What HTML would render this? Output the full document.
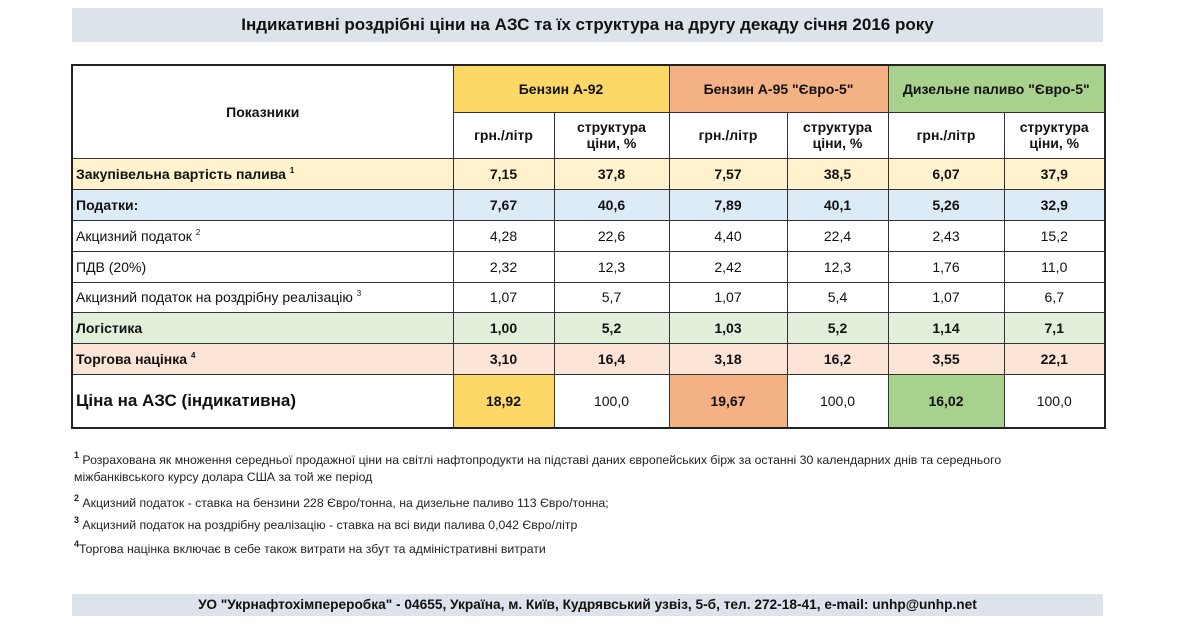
<!DOCTYPE html>
<html><head><meta charset="utf-8"><style>
body{margin:0;width:1200px;height:630px;background:#fff;font-family:"Liberation Sans",sans-serif;position:relative;overflow:hidden;color:#111}
.bar{position:absolute;left:72px;width:1031px;background:#dde3ea;text-align:center;font-weight:bold;white-space:nowrap}
table{position:absolute;left:71px;top:64px;width:1033px;border-collapse:collapse;border:2.5px solid #222;table-layout:fixed}
td{border:1.5px solid #333;text-align:center;font-size:14px;padding:0;font-weight:bold}
td.l{text-align:left;padding-left:3px;white-space:nowrap}
td.n{font-weight:normal}
sup{font-size:8px;vertical-align:6px;line-height:0}
.fn{position:absolute;left:74px;font-size:12.3px;color:#222;line-height:17px;white-space:nowrap}
.fn sup{font-size:9px;font-weight:bold}
</style></head><body>
<div class="bar" style="top:8px;height:34px;line-height:34px;font-size:17px">Індикативні роздрібні ціни на АЗС  та їх структура на другу декаду січня 2016 року</div>
<table>
<colgroup><col style="width:381px"><col style="width:101px"><col style="width:115px"><col style="width:118px"><col style="width:101px"><col style="width:116px"><col style="width:101px"></colgroup>
<tr style="height:47px"><td rowspan="2">Показники</td><td colspan="2" style="background:#fdd866">Бензин А-92</td><td colspan="2" style="background:#f4b183">Бензин А-95 "Євро-5"</td><td colspan="2" style="background:#a9d18e">Дизельне паливо "Євро-5"</td></tr>
<tr style="height:46px"><td>грн./літр</td><td>структура<br>ціни, %</td><td>грн./літр</td><td>структура<br>ціни, %</td><td>грн./літр</td><td>структура<br>ціни, %</td></tr>
<tr style="height:31px;background:#fff2cc"><td class="l">Закупівельна вартість палива <sup>1</sup></td><td>7,15</td><td>37,8</td><td>7,57</td><td>38,5</td><td>6,07</td><td>37,9</td></tr>
<tr style="height:31px;background:#ddebf7"><td class="l">Податки:</td><td>7,67</td><td>40,6</td><td>7,89</td><td>40,1</td><td>5,26</td><td>32,9</td></tr>
<tr style="height:31px"><td class="l n">Акцизний податок <sup>2</sup></td><td class="n">4,28</td><td class="n">22,6</td><td class="n">4,40</td><td class="n">22,4</td><td class="n">2,43</td><td class="n">15,2</td></tr>
<tr style="height:31px"><td class="l n">ПДВ (20%)</td><td class="n">2,32</td><td class="n">12,3</td><td class="n">2,42</td><td class="n">12,3</td><td class="n">1,76</td><td class="n">11,0</td></tr>
<tr style="height:30px"><td class="l n">Акцизний податок на роздрібну реалізацію <sup>3</sup></td><td class="n">1,07</td><td class="n">5,7</td><td class="n">1,07</td><td class="n">5,4</td><td class="n">1,07</td><td class="n">6,7</td></tr>
<tr style="height:31px;background:#e2efda"><td class="l">Логістика</td><td>1,00</td><td>5,2</td><td>1,03</td><td>5,2</td><td>1,14</td><td>7,1</td></tr>
<tr style="height:31px;background:#fce4d6"><td class="l">Торгова націнка <sup>4</sup></td><td>3,10</td><td>16,4</td><td>3,18</td><td>16,2</td><td>3,55</td><td>22,1</td></tr>
<tr style="height:54px"><td class="l" style="font-size:17px">Ціна на АЗС (індикативна)</td><td style="background:#fdd866">18,92</td><td class="n">100,0</td><td style="background:#f4b183">19,67</td><td class="n">100,0</td><td style="background:#a9d18e">16,02</td><td class="n">100,0</td></tr>
</table>
<div class="fn" style="top:452px"><sup>1</sup> Розрахована як множення середньої продажної ціни на світлі нафтопродукти на підставі даних європейських бірж за останні 30 календарних днів та середнього<br>міжбанківського курсу долара США за той же період</div>
<div class="fn" style="top:495px"><sup>2</sup> Акцизний податок - ставка на бензини 228 Євро/тонна, на дизельне паливо 113 Євро/тонна;</div>
<div class="fn" style="top:517px"><sup>3</sup> Акцизний податок на роздрібну реалізацію - ставка на всі види палива 0,042 Євро/літр</div>
<div class="fn" style="top:541px"><sup>4</sup>Торгова націнка включає в себе також витрати на збут та адміністративні витрати</div>
<div class="bar" style="top:594px;height:22px;line-height:22px;font-size:13.7px">УО "Укрнафтохімпереробка" - 04655, Україна, м. Київ, Кудрявський узвіз, 5-б, тел. 272-18-41, e-mail: unhp@unhp.net</div>
</body></html>
